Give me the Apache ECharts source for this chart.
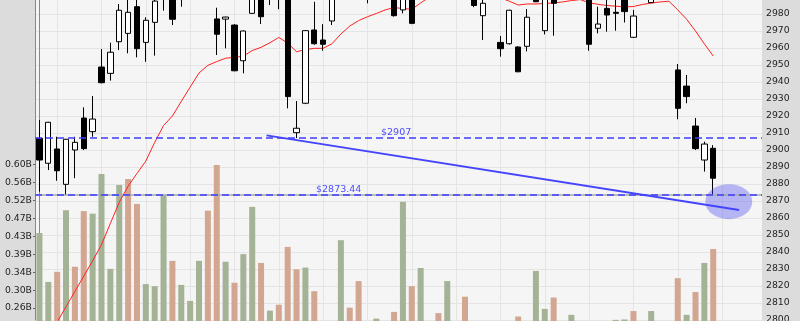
<!DOCTYPE html>
<html>
<head>
<meta charset="utf-8">
<script src="https://cdn.jsdelivr.net/npm/echarts@6/dist/echarts.min.js"></script>
<style>
html,body{margin:0;padding:0;background:#dcdcdc;overflow:hidden}
#c{width:800px;height:321px}
</style>
</head>
<body>
<div id="c"></div>
<script>
// 82 slots on the time axis (77 sessions drawn, the rest empty space)
const categories = ['1','2','3','4','5','6','7','8','9','10','11','12','13','14','15','16','17','18','19','20',
'21','22','23','24','25','26','27','28','29','30','31','32','33','34','35','36','37','38','39','40',
'41','42','43','44','45','46','47','48','49','50','51','52','53','54','55','56','57','58','59','60',
'61','62','63','64','65','66','67','68','69','70','71','72','73','74','75','76','77','78','79','80','81','82'];

const opens = [2906.9,2892.2,2900.6,2879.8,2900.0,2918.8,2910.8,2948.8,2945.1,2963.7,
2968.6,2984.3,2963.3,2975.1,2996.0,2996.0,2990.0,2998.0,3006.0,2999.0,
2977.1,2977.0,2973.5,2952.5,2980.4,2993.0,2990.0,2997.0,2992.0,2910.2,
2927.5,2970.6,2964.7,2975.9,2992.0,3000.0,3006.0,3002.0,2994.0,3001.0,
2996.0,2982.4,2992.0,2990.0,2999.0,3005.0,3001.0,3008.0,3003.0,2998.0,
2979.0,2990.0,2963.3,2962.5,2960.6,2961.0,2995.0,2970.2,2995.0,2992.0,
2999.0,3004.0,2996.0,2971.6,2983.3,2981.0,2992.0,2966.3,2990.0,2986.7,
2995.0,3000.0,2947.1,2937.6,2914.1,2894.1,2901.0];
const closes = [2894.1,2916.3,2887.8,2906.3,2904.5,2900.8,2918.2,2939.6,2957.5,2982.2,
2981.0,2959.6,2976.3,2987.6,3004.0,2976.9,2999.0,3006.0,2999.0,2990.0,
2968.1,2978.2,2946.6,2970.0,2994.0,2978.4,2997.0,2992.0,2931.4,2912.8,
2970.2,2962.5,2962.2,2992.0,3000.0,3006.0,3002.0,2994.0,3001.0,2996.0,
2979.0,2990.0,2974.5,2999.0,3005.0,3001.0,3008.0,3003.0,2998.0,2985.0,
2986.3,2996.0,2959.6,2982.2,2946.0,2978.1,2987.2,2992.0,2986.3,2999.0,
3004.0,2997.0,2962.2,2974.1,2979.4,2980.4,2981.4,2978.8,2997.0,2995.0,
3000.0,2994.0,2924.5,2931.4,2900.8,2903.5,2883.4];
const lows = [2875.5,2888.2,2881.9,2873.5,2883.4,2900.0,2907.8,2939.2,2940.8,2958.8,
2956.9,2954.5,2951.9,2955.5,2982.0,2973.5,2984.3,2992.0,2995.0,2989.0,
2955.9,2959.8,2946.3,2945.1,2980.0,2974.1,2985.3,2982.8,2924.5,2907.0,
2927.0,2962.0,2958.4,2973.5,2989.0,2996.0,2998.0,2986.3,2991.0,2992.0,
2978.5,2980.4,2974.0,2989.0,2995.0,2997.0,2998.0,2999.0,2994.0,2984.0,
2964.7,2989.0,2954.9,2962.0,2945.8,2958.0,2987.0,2968.0,2967.2,2989.0,
2995.0,2993.0,2958.4,2968.6,2969.6,2970.2,2975.0,2966.0,2989.0,2986.5,
2991.0,2990.0,2918.1,2927.5,2900.0,2887.3,2873.44];
const highs = [2917.6,2916.5,2907.8,2906.5,2907.8,2925.1,2931.8,2959.4,2963.1,2985.9,
2991.0,2992.0,2978.1,2993.0,3008.0,3001.0,3004.0,3010.0,3011.0,3003.0,
2983.7,2978.4,2974.0,2970.3,2998.0,2996.0,3001.0,3002.0,2995.0,2928.8,
2970.5,2987.2,2974.0,2995.0,3004.0,3010.0,3011.0,3005.0,3004.0,3005.0,
2999.0,2994.0,2995.0,3002.0,3009.0,3008.0,3012.0,3011.0,3006.0,3001.0,
2990.0,2999.0,2967.1,2982.5,2961.0,2982.9,2998.0,2996.0,2998.0,3003.0,
3007.0,3006.0,2999.0,2984.3,2990.0,2990.0,2995.0,2982.4,3000.0,2999.0,
3004.0,3003.0,2950.6,2944.1,2918.8,2904.9,2902.9];

// moving average (red line)
const maValues = [2780.0,2789.0,2798.8,2807.8,2816.8,2825.8,2834.8,2844.3,2856.8,2869.2,
2878.7,2886.2,2893.5,2904.5,2914.4,2920.0,2928.6,2937.0,2945.3,2949.8,
2952.0,2954.0,2954.5,2955.2,2958.5,2960.4,2963.1,2966.2,2962.9,2957.8,
2959.1,2959.8,2959.8,2962.5,2968.2,2972.9,2976.1,2978.4,2980.3,2982.4,
2983.8,2983.2,2982.8,2986.5,2990.0,2992.0,2994.0,2995.0,2995.0,2994.0,
2993.0,2991.0,2989.5,2987.5,2985.3,2985.9,2985.9,2986.2,2986.5,2987.1,
2987.9,2988.5,2986.6,2985.7,2985.0,2984.6,2984.2,2984.4,2985.6,2986.4,
2987.1,2987.5,2982.4,2976.9,2970.0,2962.4,2955.3];

// volume, in billions
const volumes = [0.438,0.322,0.346,0.492,0.358,0.490,0.484,0.578,0.353,0.552,
0.566,0.507,0.317,0.312,0.528,0.372,0.315,0.277,0.372,0.491,
0.599,0.370,0.320,0.388,0.500,0.367,0.254,0.268,0.405,0.352,
0.356,0.300,0.210,0.200,0.421,0.261,0.324,0.210,0.235,0.200,
0.251,0.512,0.312,0.355,0.210,0.248,0.324,0.200,0.287,0.210,
0.200,0.190,0.210,0.220,0.240,0.210,0.348,0.258,0.285,0.200,
0.244,0.210,0.220,0.200,0.210,0.232,0.233,0.253,0.200,0.253,
0.210,0.200,0.331,0.244,0.298,0.367,0.400];
// volume bar tone: G = green bar, R = rose bar
const volumeTone = ['G','G','R','G','R','R','G','G','G','G',
'R','R','G','G','G','R','G','G','G','R',
'R','G','R','G','G','R','G','R','R','R',
'G','R','G','R','G','R','R','G','G','R',
'R','G','R','G','G','R','G','R','R','G',
'R','G','R','G','R','G','G','G','R','G',
'G','R','R','G','R','G','G','R','R','G',
'G','R','R','G','R','G','R'];

// annotations
const refLevels = [2907, 2873.44];
const trendLine = [[25.62, 2908.6], [78.91, 2864.7]];
const highlightPoint = [77.75, 2869.6];

const FONT = 'DejaVu Sans';
const candleData = opens.map((o, i) => [o, closes[i], lows[i], highs[i]]);
const volData = volumes.map((v, i) => ({
  value: v,
  itemStyle: { color: volumeTone[i] === 'G' ? '#a4b396' : '#d2a691' }
}));

const chart = echarts.init(document.getElementById('c'), null, { renderer: 'canvas' });
chart.setOption({
  animation: false,
  backgroundColor: '#dcdcdc',
  textStyle: { fontFamily: FONT },
  grid: [
    { left: 35, right: 38, top: -1, bottom: 1, show: true, backgroundColor: '#f5f5f5', borderWidth: 0, outerBoundsMode: 'none', containLabel: false },
    { left: 35, right: 38, top: 164.7, bottom: -5, show: false, outerBoundsMode: 'none', containLabel: false }
  ],
  xAxis: [
    { type: 'category', gridIndex: 0, data: categories, boundaryGap: true,
      axisLine: { show: false }, axisTick: { show: false }, axisLabel: { show: false },
      splitLine: { show: true, alignWithLabel: true, interval: (i) => i % 5 === 2, lineStyle: { color: '#e4e4e4', width: 1 } } },
    { type: 'category', gridIndex: 1, data: categories, boundaryGap: true, show: false },
    { type: 'value', gridIndex: 0, min: -0.5, max: categories.length - 0.5, show: false }
  ],
  yAxis: [
    { type: 'value', gridIndex: 0, position: 'right', min: 2800, max: 2988.8235, interval: 10,
      axisLine: { show: true, lineStyle: { color: '#888888', width: 1 } },
      axisTick: { show: false },
      axisLabel: { show: true, margin: 4, color: '#1e1e1e', fontSize: 9.3, fontFamily: FONT,
        showMinLabel: true, showMaxLabel: false,
        formatter: (v) => (Math.abs(v % 10) < 1e-6 ? String(Math.round(v)) : '') },
      splitLine: { show: true, showMaxLine: false, lineStyle: { color: '#e4e4e4', width: 1 } } },
    { type: 'value', gridIndex: 1, position: 'left', min: 0.2175, max: 0.60, interval: 0.0425,
      axisLine: { show: false },
      axisTick: { show: true, length: 2, lineStyle: { color: '#666' } },
      axisLabel: { show: true, margin: 3, color: '#1e1e1e', fontSize: 9.3, fontFamily: FONT,
        showMinLabel: false, showMaxLabel: true,
        formatter: (v) => v.toFixed(2) + 'B' },
      splitLine: { show: false } },
    { type: 'value', gridIndex: 0, position: 'left', min: 0, max: 1,
      axisLine: { show: true, lineStyle: { color: '#888888', width: 1 } },
      axisTick: { show: false }, axisLabel: { show: false }, splitLine: { show: false } }
  ],
  series: [
    { type: 'bar', name: 'Volume', xAxisIndex: 1, yAxisIndex: 1, data: volData, barWidth: 6, z: 1, silent: true },
    { type: 'line', name: 'MA', xAxisIndex: 0, yAxisIndex: 0, data: maValues, symbol: 'none',
      lineStyle: { color: '#ff2020', width: 1 }, z: 2, silent: true },
    { type: 'candlestick', name: 'Price', xAxisIndex: 0, yAxisIndex: 0, data: candleData, barWidth: 5.8, z: 3, silent: true,
      itemStyle: { color: '#ffffff', color0: '#000000', borderColor: '#000000', borderColor0: '#000000', borderWidth: 1 } },
    { type: 'scatter', name: 'Highlight', xAxisIndex: 2, yAxisIndex: 0, data: [highlightPoint], symbolSize: [47, 35], z: 4, silent: true,
      itemStyle: { color: 'rgba(70,70,245,0.45)' } },
    { type: 'line', name: 'Trend', xAxisIndex: 2, yAxisIndex: 0, data: trendLine, symbol: 'none', z: 5, silent: true,
      lineStyle: { color: '#4444ff', width: 2 },
      markLine: {
        symbol: ['none', 'none'], silent: true, animation: false,
        data: [
          { yAxis: refLevels[1], lineStyle: { color: '#a8a8a8', type: 'solid', width: 1.5 }, label: { show: false } },
          { yAxis: refLevels[0], lineStyle: { color: '#3c3cff', type: [7, 4], width: 1.5 },
            label: { show: true, position: 'insideStartTop', distance: [346, 1], color: '#4d4dff', fontSize: 9.5, fontFamily: FONT,
              formatter: (p) => '$' + p.value } },
          { yAxis: refLevels[1], lineStyle: { color: '#3c3cff', type: [7, 4], width: 1.5 },
            label: { show: true, position: 'insideStartTop', distance: [281, 1], color: '#4d4dff', fontSize: 9.5, fontFamily: FONT,
              formatter: (p) => '$' + p.value } }
        ]
      } }
  ]
});
</script>
</body>
</html>
